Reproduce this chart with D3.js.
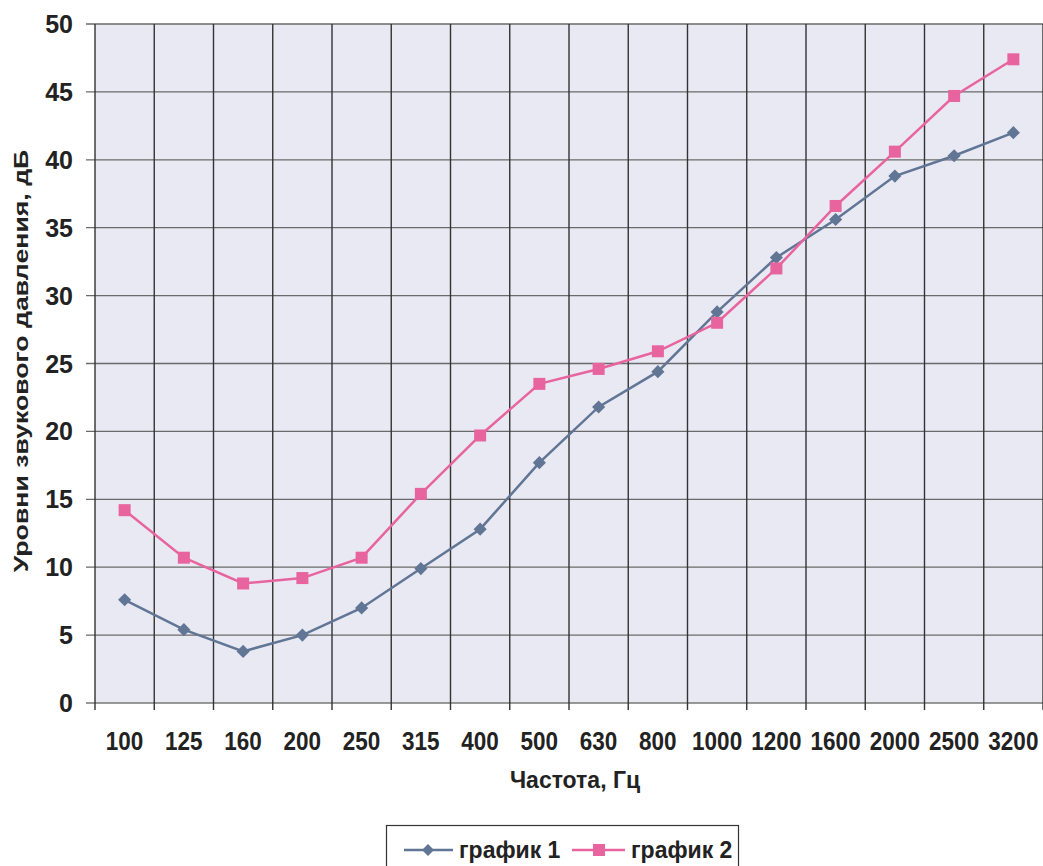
<!DOCTYPE html>
<html><head><meta charset="utf-8">
<script src="https://cdn.jsdelivr.net/npm/d3@7"></script>
<style>body{margin:0;background:#fff;} text{font-family:"Liberation Sans",Arial,sans-serif;font-weight:bold;fill:#222;}</style>
</head><body>
<svg id="c" width="1043" height="866"></svg>
<script>
const categories = ["100","125","160","200","250","315","400","500","630","800","1000","1200","1600","2000","2500","3200"];
const series1 = [7.6,5.4,3.8,5.0,7.0,9.9,12.8,17.7,21.8,24.4,28.8,32.8,35.6,38.8,40.3,42.0];
const series2 = [14.2,10.7,8.8,9.2,10.7,15.4,19.7,23.5,24.6,25.9,28.0,32.0,36.6,40.6,44.7,47.4];
const yTicks = [0,5,10,15,20,25,30,35,40,45,50];
const seriesNames = ["график 1","график 2"];

const svg = d3.select("#c");
const L=95, R=1043, T=24, B=703;
const x = d3.scaleBand().domain(categories).range([L,R]);
const y = d3.scaleLinear().domain([0,50]).range([B,T]);

svg.append("rect").attr("x",L).attr("y",T).attr("width",R-L).attr("height",B-T).attr("fill","#e9e9f3");

// horizontal grid
svg.append("g").selectAll("line").data(yTicks).join("line")
  .attr("x1",L-9).attr("x2",R).attr("y1",d=>y(d)).attr("y2",d=>y(d))
  .attr("stroke",d=>d===0?"#777":"#6a6a6a").attr("stroke-width",1.3);
// vertical grid
const bounds = categories.map(c=>x(c)).concat([R]);
svg.append("g").selectAll("line").data(bounds).join("line")
  .attr("x1",d=>d).attr("x2",d=>d).attr("y1",T).attr("y2",B+7)
  .attr("stroke","#333").attr("stroke-width",1.4);

// y labels
svg.append("g").selectAll("text").data(yTicks).join("text")
  .attr("x",73).attr("y",d=>y(d)).attr("dy","0.36em").attr("text-anchor","end")
  .attr("font-size",25).text(d=>d);
// x labels
svg.append("g").selectAll("text").data(categories).join("text")
  .attr("transform",d=>`translate(${x(d)+x.bandwidth()/2},750) scale(1,1.12)`).attr("text-anchor","middle")
  .attr("font-size",22.5).text(d=>d);

svg.append("text").attr("transform","translate(575,788) scale(1,1.08)").attr("text-anchor","middle").attr("font-size",23).text("Частота, Гц");
svg.append("text").attr("transform","translate(28,361) rotate(-90) scale(1.27,1)").attr("text-anchor","middle").attr("font-size",21).text("Уровни звукового давления, дБ");

const cx = i=>x(categories[i])+x.bandwidth()/2;
const line = d3.line().x((d,i)=>cx(i)).y(d=>y(d));
const c1="#617595", c2="#e8649f";
svg.append("path").datum(series1).attr("d",line).attr("fill","none").attr("stroke",c1).attr("stroke-width",2.5);
svg.append("path").datum(series2).attr("d",line).attr("fill","none").attr("stroke",c2).attr("stroke-width",2.5);
svg.append("g").selectAll("path").data(series1).join("path")
  .attr("d",d3.symbol().type(d3.symbolDiamond2).size(110))
  .attr("transform",(d,i)=>`translate(${cx(i)},${y(d)})`).attr("fill",c1);
svg.append("g").selectAll("rect").data(series2).join("rect")
  .attr("x",(d,i)=>cx(i)-6).attr("y",d=>y(d)-6).attr("width",12).attr("height",12).attr("fill",c2);

// legend
const lg = svg.append("g");
lg.append("rect").attr("x",386.5).attr("y",825.5).attr("width",352).attr("height",60).attr("fill","#fff").attr("stroke","#333").attr("stroke-width",1.2);
lg.append("line").attr("x1",404).attr("x2",453).attr("y1",850).attr("y2",850).attr("stroke",c1).attr("stroke-width",2.5);
lg.append("path").attr("d",d3.symbol().type(d3.symbolDiamond2).size(90)).attr("transform","translate(428,850)").attr("fill",c1);
lg.append("text").attr("x",459).attr("y",858).attr("font-size",23).text(seriesNames[0]);
lg.append("line").attr("x1",572).attr("x2",625).attr("y1",850).attr("y2",850).attr("stroke",c2).attr("stroke-width",2.5);
lg.append("rect").attr("x",593).attr("y",844).attr("width",12).attr("height",12).attr("fill",c2);
lg.append("text").attr("x",631).attr("y",858).attr("font-size",23).text(seriesNames[1]);
</script>
</body></html>
